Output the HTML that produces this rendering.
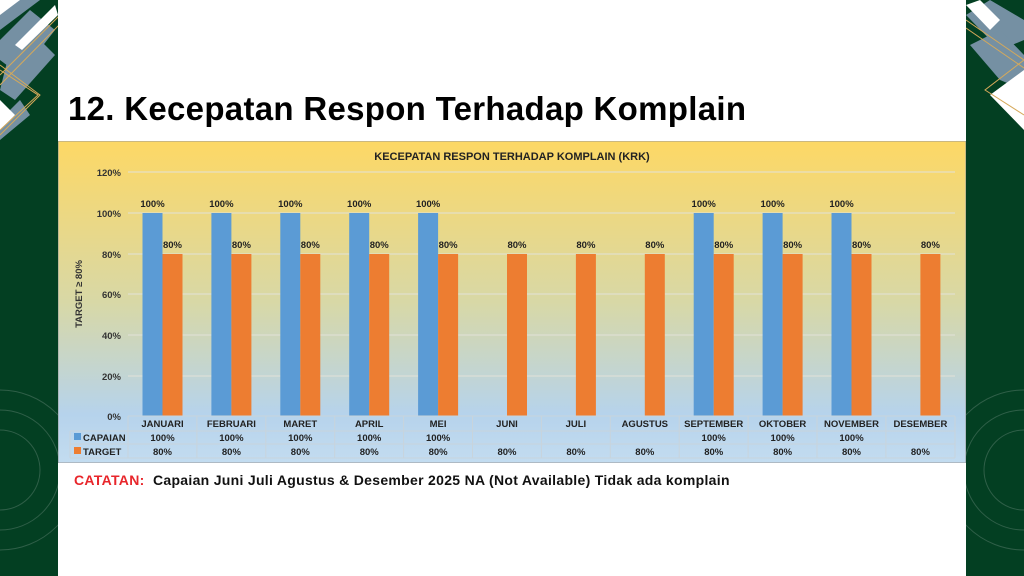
<!DOCTYPE html>
<html><head><meta charset="utf-8"><style>
body{margin:0;width:1024px;height:576px;overflow:hidden;background:#fff;font-family:"Liberation Sans",sans-serif;position:relative}
.abs{position:absolute}
</style></head><body>
<svg class="abs" style="left:0;top:0" width="1024" height="576">
<defs><clipPath id="cl"><rect x="0" y="0" width="58" height="576"/><rect x="966" y="0" width="58" height="576"/></clipPath></defs>
<g clip-path="url(#cl)">
<rect x="0" y="0" width="58" height="576" fill="#033f22"/>
<rect x="966" y="0" width="58" height="576" fill="#033f22"/>
<g fill="#7590a3">
<polygon points="0,0 40,0 0,30"/>
<polygon points="0,40 30,10 55,30 20,75 0,60"/>
<polygon points="10,50 40,40 55,55 15,100 0,90"/>
<polygon points="0,120 20,100 30,115 0,140"/>
<polygon points="1024,20 990,0 966,15 1000,50 1024,40"/>
<polygon points="970,45 1000,30 1024,55 1024,90 1000,80"/>
</g>
<g fill="#fff">
<polygon points="0,0 20,0 0,15"/>
<polygon points="15,45 55,5 58,15 22,50"/>
<polygon points="0,100 15,115 0,130"/>
<polygon points="990,95 1024,70 1024,130"/>
<polygon points="966,5 980,0 1000,20 990,30"/>
</g>
<g stroke="#d6a95a" fill="none" stroke-width="1">
<polyline points="0,75 60,15"/><polyline points="0,85 62,22"/>
<polyline points="0,70 38,95 0,130"/><polyline points="0,65 40,95 0,135"/>
<polyline points="1024,60 985,90 1024,115"/><polyline points="966,20 1024,60"/><polyline points="966,28 1024,68"/>
</g>
<g stroke="#2f5f48" fill="none" stroke-width="1">
<circle cx="0" cy="470" r="60"/><circle cx="0" cy="470" r="40"/><circle cx="0" cy="470" r="80"/>
<circle cx="1024" cy="470" r="60"/><circle cx="1024" cy="470" r="40"/><circle cx="1024" cy="470" r="80"/>
</g>
</g>
</svg>
<div class="abs" style="left:68px;top:90px;font-size:33px;font-weight:bold;color:#000;white-space:nowrap;letter-spacing:0.3px">12. Kecepatan Respon Terhadap Komplain</div>
<svg class="abs" style="left:58px;top:141px" width="908" height="322">
<defs><linearGradient id="g" x1="0" y1="0" x2="0" y2="1">
<stop offset="0" stop-color="#fdd865"/><stop offset="0.5" stop-color="#d8d8a6"/><stop offset="0.85" stop-color="#b6d3ec"/><stop offset="1" stop-color="#c3dcf0"/></linearGradient></defs>
<rect x="0" y="0" width="908" height="322" fill="url(#g)" stroke="#999" stroke-width="1"/>
<text x="454" y="19" font-size="11" font-weight="bold" text-anchor="middle" fill="#222">KECEPATAN RESPON TERHADAP KOMPLAIN (KRK)</text>
<g stroke="#e2e2d8" stroke-width="1">
<line x1="70" x2="897" y1="31" y2="31"/><line x1="70" x2="897" y1="72" y2="72"/><line x1="70" x2="897" y1="113" y2="113"/><line x1="70" x2="897" y1="153" y2="153"/><line x1="70" x2="897" y1="194" y2="194"/><line x1="70" x2="897" y1="235" y2="235"/>
</g>
<g font-size="9.5" font-weight="bold" fill="#333" text-anchor="end">
<text x="63" y="35">120%</text><text x="63" y="76">100%</text><text x="63" y="117">80%</text><text x="63" y="157">60%</text><text x="63" y="198">40%</text><text x="63" y="239">20%</text><text x="63" y="279">0%</text>
</g>
<text transform="translate(24,153) rotate(-90)" font-size="9.5" font-weight="bold" fill="#333" text-anchor="middle">TARGET ≥ 80%</text>
<g id="bars"></g>
<g stroke="#c8d4dc" stroke-width="1" fill="none">
<line x1="70" x2="897" y1="275" y2="275"/><line x1="12" x2="897" y1="290" y2="290"/><line x1="12" x2="897" y1="303" y2="303"/><line x1="12" x2="897" y1="317" y2="317"/>
<g id="vl"></g>
</g>
<rect x="16" y="292" width="7" height="7" fill="#5b9bd5"/><rect x="16" y="306" width="7" height="7" fill="#ed7d31"/>
<g font-size="9.5" font-weight="bold" fill="#222">
<text x="25" y="300">CAPAIAN</text><text x="25" y="314">TARGET</text>
</g>
<g id="tx" font-size="9.5" font-weight="bold" fill="#222" text-anchor="middle"></g>
</svg>
<div class="abs" style="left:74px;top:472px;font-size:14px;font-weight:bold;color:#111;white-space:nowrap;letter-spacing:0.3px"><span style="color:#e8262b">CATATAN:</span>&nbsp; Capaian Juni Juli Agustus &amp; Desember 2025 NA (Not Available) Tidak ada komplain</div>
<script>
var m=["JANUARI","FEBRUARI","MARET","APRIL","MEI","JUNI","JULI","AGUSTUS","SEPTEMBER","OKTOBER","NOVEMBER","DESEMBER"];
var c=[1,1,1,1,1,0,0,0,1,1,1,0];
var b="",t="",v="";
for(var i=0;i<12;i++){var cx=70+68.9*i+34.5;
if(c[i]){b+='<rect x="'+(cx-20)+'" y="72" width="20" height="203" fill="#5b9bd5"/>';t+='<text x="'+(cx-10)+'" y="66">100%</text><text x="'+cx+'" y="300">100%</text>';}
b+='<rect x="'+cx+'" y="113" width="20" height="162" fill="#ed7d31"/>';
t+='<text x="'+(cx+10)+'" y="107">80%</text><text x="'+cx+'" y="286">'+m[i]+'</text><text x="'+cx+'" y="314">80%</text>';
v+='<line x1="'+(70+68.9*i)+'" x2="'+(70+68.9*i)+'" y1="275" y2="317"/>';}
v+='<line x1="897" x2="897" y1="275" y2="317"/><line x1="12" x2="12" y1="290" y2="317"/>';
document.getElementById("bars").innerHTML=b;document.getElementById("tx").innerHTML=t;document.getElementById("vl").innerHTML=v;
</script>
</body></html>
